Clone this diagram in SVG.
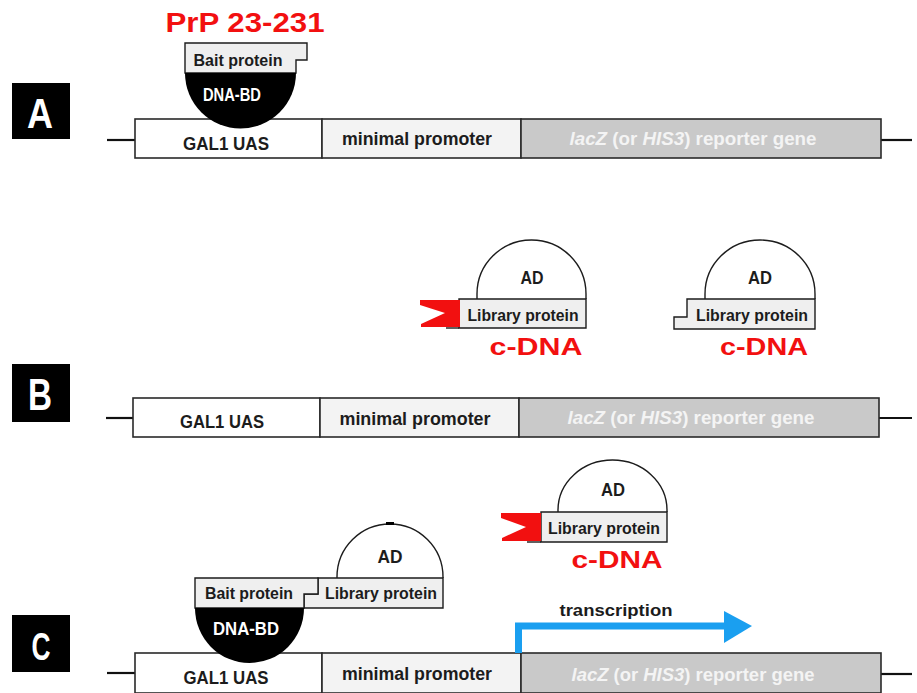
<svg xmlns="http://www.w3.org/2000/svg" width="917" height="693" viewBox="0 0 917 693">
<style>
  text { font-family: "Liberation Sans", Arial, sans-serif; font-weight: bold; }
  .t { fill: #1c1c1c; }
  .w { fill: #ffffff; }
  .g { fill: #f4f4f4; }
  .red { fill: #f21010; }
  .seg { stroke: #2a2a2a; stroke-width: 1.6; }
  .uas { fill: #ffffff; }
  .mp { fill: #f3f3f3; }
  .rep { fill: #c9c9c9; }
  .prot { fill: #efefef; stroke: #1c1c1c; stroke-width: 1.4; }
  .dome { fill: #ffffff; stroke: #1c1c1c; stroke-width: 1.4; }
  .bd { fill: #000000; }
  .stub { stroke: #111; stroke-width: 2.2; fill: none; }
  .flag { fill: #f21010; }
  .lab { fill: #000; }
</style>

<!-- Panel labels -->
<g id="label-A"><rect class="lab" x="12" y="83" width="58" height="56"/><text class="w" x="40" y="128" font-size="43" text-anchor="middle" textLength="26" lengthAdjust="spacingAndGlyphs">A</text></g>
<g id="label-B"><rect class="lab" x="12" y="364" width="58" height="58"/><text class="w" x="40" y="410" font-size="44" text-anchor="middle" textLength="24" lengthAdjust="spacingAndGlyphs">B</text></g>
<g id="label-C"><rect class="lab" x="12" y="615" width="58" height="57"/><text class="w" x="41" y="660" font-size="39" text-anchor="middle" textLength="19" lengthAdjust="spacingAndGlyphs">C</text></g>

<!-- Connectors: DNA stubs and transcription arrow -->
<g id="connectors">
  <line class="stub" x1="107" y1="140" x2="135" y2="140"/>
  <line class="stub" x1="881" y1="140" x2="912" y2="140"/>
  <line class="stub" x1="106" y1="418" x2="133" y2="418"/>
  <line class="stub" x1="879" y1="418" x2="912" y2="418"/>
  <line class="stub" x1="107" y1="673" x2="135" y2="673"/>
  <line class="stub" x1="881" y1="674" x2="912" y2="674"/>
</g>

<!-- Gene A -->
<g id="gene-A">
  <rect class="seg uas" x="135" y="119" width="187" height="39"/>
  <rect class="seg mp" x="322" y="119" width="199" height="39"/>
  <rect class="seg rep" x="521" y="119" width="360" height="39"/>
  <text class="t" x="226" y="150" font-size="19" text-anchor="middle" textLength="86" lengthAdjust="spacingAndGlyphs">GAL1 UAS</text>
  <text class="t" x="417" y="145" font-size="18" text-anchor="middle" textLength="150" lengthAdjust="spacingAndGlyphs">minimal promoter</text>
  <text class="g" x="693" y="145" font-size="18" text-anchor="middle" textLength="247" lengthAdjust="spacingAndGlyphs"><tspan font-style="italic">lacZ</tspan> (or <tspan font-style="italic">HIS3</tspan>) reporter gene</text>
</g>

<!-- Gene B -->
<g id="gene-B">
  <rect class="seg uas" x="133" y="398" width="187" height="39"/>
  <rect class="seg mp" x="320" y="398" width="199" height="39"/>
  <rect class="seg rep" x="519" y="398" width="360" height="39"/>
  <text class="t" x="222" y="428" font-size="19" text-anchor="middle" textLength="84" lengthAdjust="spacingAndGlyphs">GAL1 UAS</text>
  <text class="t" x="415" y="425" font-size="18" text-anchor="middle" textLength="151" lengthAdjust="spacingAndGlyphs">minimal promoter</text>
  <text class="g" x="691" y="424" font-size="18" text-anchor="middle" textLength="247" lengthAdjust="spacingAndGlyphs"><tspan font-style="italic">lacZ</tspan> (or <tspan font-style="italic">HIS3</tspan>) reporter gene</text>
</g>

<!-- Gene C -->
<g id="gene-C">
  <rect class="seg uas" x="135" y="653" width="187" height="40"/>
  <rect class="seg mp" x="322" y="653" width="199" height="40"/>
  <rect class="seg rep" x="521" y="653" width="360" height="40"/>
  <text class="t" x="226" y="684" font-size="19" text-anchor="middle" textLength="85" lengthAdjust="spacingAndGlyphs">GAL1 UAS</text>
  <text class="t" x="417" y="680" font-size="18" text-anchor="middle" textLength="150" lengthAdjust="spacingAndGlyphs">minimal promoter</text>
  <text class="g" x="693" y="681" font-size="18" text-anchor="middle" textLength="243" lengthAdjust="spacingAndGlyphs"><tspan font-style="italic">lacZ</tspan> (or <tspan font-style="italic">HIS3</tspan>) reporter gene</text>
</g>

<!-- Bait A -->
<g id="bait-A">
  <text class="red" x="245" y="32" font-size="27" text-anchor="middle" textLength="159" lengthAdjust="spacingAndGlyphs">PrP 23-231</text>
  <path class="prot" d="M185,43 H307 V60 H296 V73 H185 Z"/>
  <path class="bd" d="M185,73 H296 A55.5,55.5 0 0 1 185,73 Z"/>
  <text class="t" x="238" y="66" font-size="16" text-anchor="middle" textLength="89" lengthAdjust="spacingAndGlyphs">Bait protein</text>
  <text class="w" x="232" y="101" font-size="18" text-anchor="middle" textLength="58" lengthAdjust="spacingAndGlyphs">DNA-BD</text>
</g>

<!-- Library B left -->
<g id="library-B1">
  <path class="dome" d="M477,299 V294 A54.5,54 0 0 1 586,294 V299"/>
  <path class="prot" d="M459,299 H586 V328 H459 Z"/>
  <line x1="446" y1="328" x2="459" y2="328" stroke="#1c1c1c" stroke-width="1.4"/>
  <polygon class="flag" points="420,300 460,300 460,327 421,327 421,324 445,313 420,305"/>
  <text class="t" x="532" y="284" font-size="18" text-anchor="middle" textLength="23" lengthAdjust="spacingAndGlyphs">AD</text>
  <text class="t" x="523" y="321" font-size="16" text-anchor="middle" textLength="111" lengthAdjust="spacingAndGlyphs">Library protein</text>
  <text class="red" x="536" y="355" font-size="23" text-anchor="middle" textLength="93" lengthAdjust="spacingAndGlyphs">c-DNA</text>
</g>

<!-- Library B right -->
<g id="library-B2">
  <path class="dome" d="M705,299 V294 A55,54 0 0 1 815,294 V299"/>
  <path class="prot" d="M687,299 H815 V329 H674 V317 H687 Z"/>
  <text class="t" x="760" y="284" font-size="18" text-anchor="middle" textLength="24" lengthAdjust="spacingAndGlyphs">AD</text>
  <text class="t" x="752" y="321" font-size="16" text-anchor="middle" textLength="112" lengthAdjust="spacingAndGlyphs">Library protein</text>
  <text class="red" x="764" y="355" font-size="23" text-anchor="middle" textLength="88" lengthAdjust="spacingAndGlyphs">c-DNA</text>
</g>

<!-- Library C free -->
<g id="library-C1">
  <path class="dome" d="M558,512 V510 A54.5,50 0 0 1 667,510 V512"/>
  <path class="prot" d="M541,512 H667 V542 H541 Z"/>
  <line x1="527" y1="542" x2="541" y2="542" stroke="#1c1c1c" stroke-width="1.4"/>
  <polygon class="flag" points="501,513 541,513 541,541 502,541 502,538 526,527 501,518"/>
  <text class="t" x="613" y="496" font-size="18" text-anchor="middle" textLength="24" lengthAdjust="spacingAndGlyphs">AD</text>
  <text class="t" x="604" y="534" font-size="16" text-anchor="middle" textLength="112" lengthAdjust="spacingAndGlyphs">Library protein</text>
  <text class="red" x="617" y="568" font-size="23" text-anchor="middle" textLength="91" lengthAdjust="spacingAndGlyphs">c-DNA</text>
</g>

<!-- Complex C -->
<g id="complex-C">
  <path class="dome" d="M337,578 V577 A53,53 0 0 1 443,577 V578"/>
  <rect x="386" y="522" width="8" height="3" fill="#000"/>
  <path class="prot" d="M318,578 H443 V608 H304 V594 H318 Z"/>
  <path class="prot" d="M195,578 H318 V594 H304 V608 H195 Z"/>
  <path class="bd" d="M195,608 H304 A54.5,55 0 0 1 195,608 Z"/>
  <text class="t" x="390" y="563" font-size="18" text-anchor="middle" textLength="25" lengthAdjust="spacingAndGlyphs">AD</text>
  <text class="t" x="249" y="599" font-size="16" text-anchor="middle" textLength="88" lengthAdjust="spacingAndGlyphs">Bait protein</text>
  <text class="t" x="381" y="599" font-size="16" text-anchor="middle" textLength="112" lengthAdjust="spacingAndGlyphs">Library protein</text>
  <text class="w" x="246" y="635" font-size="18" text-anchor="middle" textLength="66" lengthAdjust="spacingAndGlyphs">DNA-BD</text>
</g>

<!-- Transcription arrow -->
<g id="transcription">
  <path d="M518.5,653 V626 H726" fill="none" stroke="#1a9ff0" stroke-width="7"/>
  <polygon points="724,611 752,626 724,643" fill="#1a9ff0"/>
  <text class="t" x="616" y="616" font-size="17" text-anchor="middle" textLength="113" lengthAdjust="spacingAndGlyphs">transcription</text>
</g>
</svg>
